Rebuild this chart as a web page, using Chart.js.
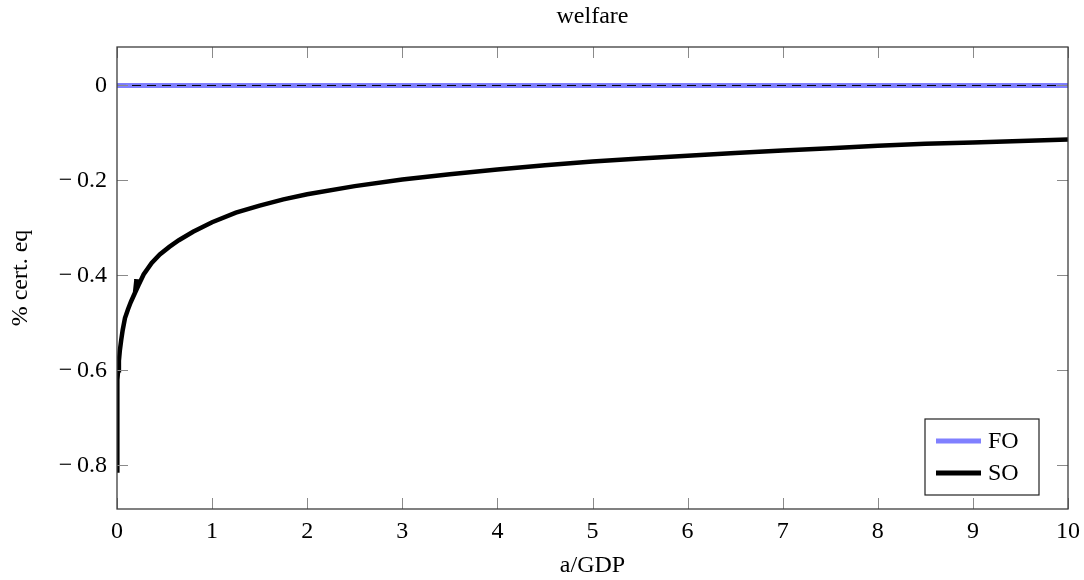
<!DOCTYPE html>
<html>
<head>
<meta charset="utf-8">
<script src="https://cdn.jsdelivr.net/npm/chart.js@4.4.1/dist/chart.umd.min.js"></script>
<style>
  body { margin: 0; background: #fff; }
</style>
</head>
<body>
<canvas id="myChart" width="1084" height="580"></canvas>
<script>
// a/GDP grid points for the SO curve (the small barb near 0.2 is in the original)
var soX = [0, 0.001, 0.002, 0.004, 0.007, 0.012, 0.02, 0.03, 0.045, 0.06, 0.084, 0.115, 0.147, 0.19, 0.205, 0.196, 0.228,
           0.28, 0.365, 0.45, 0.55, 0.65, 0.8, 1.0, 1.25, 1.5, 1.75, 2.0, 2.5, 3.0, 3.5, 4.0, 4.5, 5.0,
           5.5, 6.0, 6.5, 7.0, 7.5, 8.0, 8.5, 9.0, 9.5, 10];
var soY = [-0.811, -0.74, -0.69, -0.65, -0.62, -0.60, -0.58, -0.558, -0.535, -0.515, -0.49, -0.472, -0.455, -0.436, -0.408, -0.434, -0.42,
           -0.398, -0.374, -0.356, -0.340, -0.326, -0.308, -0.288, -0.268, -0.253, -0.240, -0.229, -0.212, -0.198, -0.187, -0.177, -0.168, -0.160,
           -0.154, -0.148, -0.142, -0.137, -0.132, -0.127, -0.123, -0.120, -0.117, -0.114];

// FO is flat at zero, plus the dashed zero line
var foX = [0, 10];
var foY = [0, 0];
var zeroX = [0, 10];
var zeroY = [0, 0];

var xTicks = [0, 1, 2, 3, 4, 5, 6, 7, 8, 9, 10];
var yTicks = [-0.8, -0.6, -0.4, -0.2, 0];
var yMin = -0.892;
var yMax = 0.081;

var FONT = "'Liberation Serif', 'Times New Roman', serif";
var FSIZE = 24;

function toPoints(xs, ys) {
    var pts = [];
    for (var i = 0; i < xs.length; i++) {
        pts.push({x: xs[i], y: ys[i]});
    }
    return pts;
}

// box around the plot + pgfplots style inner ticks
var framePlugin = {
    id: 'frame',
    afterDatasetsDraw: function(chart) {
        var ctx = chart.ctx;
        var a = chart.chartArea;
        var xs = chart.scales.x, ys = chart.scales.y;
        var len = 11;
        ctx.save();
        ctx.strokeStyle = '#8a8a8a';
        ctx.lineWidth = 1;
        ctx.beginPath();
        for (var i = 0; i < xTicks.length; i++) {
            var px = Math.round(xs.getPixelForValue(xTicks[i])) + 0.5;
            ctx.moveTo(px, a.bottom); ctx.lineTo(px, a.bottom - len);
            ctx.moveTo(px, a.top); ctx.lineTo(px, a.top + len);
        }
        for (var j = 0; j < yTicks.length; j++) {
            var py = Math.round(ys.getPixelForValue(yTicks[j])) + 0.5;
            ctx.moveTo(a.left, py); ctx.lineTo(a.left + len, py);
            ctx.moveTo(a.right, py); ctx.lineTo(a.right - len, py);
        }
        ctx.stroke();
        ctx.strokeStyle = '#3c3c3c';
        ctx.lineWidth = 1.3;
        ctx.strokeRect(a.left, a.top, a.right - a.left, a.bottom - a.top);
        ctx.restore();
    }
};

// legend box in the lower right corner of the plot
var legendPlugin = {
    id: 'boxLegend',
    afterDraw: function(chart) {
        var ctx = chart.ctx;
        var a = chart.chartArea;
        var right = a.right - 29, bottom = a.bottom - 14;
        var w = 114, h = 76;
        var left = right - w, top = bottom - h;
        ctx.save();
        ctx.fillStyle = '#fff';
        ctx.fillRect(left, top, w, h);
        ctx.strokeStyle = '#222';
        ctx.lineWidth = 1.2;
        ctx.strokeRect(left, top, w, h);
        var entries = [chart.data.datasets[0], chart.data.datasets[1]];
        ctx.font = FSIZE + 'px ' + FONT;
        ctx.textBaseline = 'middle';
        for (var i = 0; i < entries.length; i++) {
            var cy = top + 22 + i * 32;
            ctx.strokeStyle = entries[i].borderColor;
            ctx.lineWidth = 5;
            ctx.beginPath();
            ctx.moveTo(left + 11, cy);
            ctx.lineTo(left + 56, cy);
            ctx.stroke();
            ctx.fillStyle = '#000';
            ctx.fillText(entries[i].label, left + 63, cy + 1);
        }
        ctx.restore();
    }
};

var ctx = document.getElementById('myChart').getContext('2d');
var chart = new Chart(ctx, {
    type: 'line',
    data: {
        datasets: [{
            label: 'FO',
            data: toPoints(foX, foY),
            borderColor: 'rgb(128, 128, 255)',
            borderWidth: 5,
            pointRadius: 0,
            order: 3
        }, {
            label: 'SO',
            data: toPoints(soX, soY),
            borderColor: '#000',
            borderWidth: 4.5,
            pointRadius: 0,
            tension: 0,
            order: 2
        }, {
            label: 'zero',
            data: toPoints(zeroX, zeroY),
            borderColor: '#000',
            borderWidth: 1,
            borderDash: [9, 6],
            pointRadius: 0,
            order: 1
        }]
    },
    options: {
        responsive: false,
        animation: false,
        layout: { padding: { left: 0, right: 16, top: 0, bottom: 0 } },
        plugins: {
            legend: { display: false },
            tooltip: { enabled: false },
            title: {
                display: true,
                text: 'welfare',
                fullSize: false,
                color: '#000',
                font: { family: FONT, size: FSIZE, weight: 'normal' },
                padding: { top: 2, bottom: 16.2 }
            }
        },
        scales: {
            x: {
                type: 'linear',
                min: 0,
                max: 10,
                grid: { display: false, drawTicks: false },
                border: { display: false },
                afterBuildTicks: function(s) { s.ticks = xTicks.map(function(v) { return {value: v}; }); },
                afterFit: function(s) { s.height = 71; s.paddingLeft = 0; s.paddingRight = 0; },
                ticks: {
                    color: '#000',
                    padding: 8,
                    maxRotation: 0,
                    font: { family: FONT, size: FSIZE },
                    callback: function(v) { return String(v); }
                },
                title: {
                    display: true,
                    text: 'a/GDP',
                    color: '#000',
                    font: { family: FONT, size: FSIZE },
                    padding: { top: 0, bottom: 0 }
                }
            },
            y: {
                min: yMin,
                max: yMax,
                grid: { display: false, drawTicks: false },
                border: { display: false },
                afterBuildTicks: function(s) { s.ticks = yTicks.map(function(v) { return {value: v}; }); },
                afterFit: function(s) { s.width = 117; s.paddingTop = 0; s.paddingBottom = 0; },
                ticks: {
                    color: '#000',
                    padding: 10,
                    font: { family: FONT, size: FSIZE },
                    callback: function(v) {
                        if (Math.abs(v) < 1e-9) return '0';
                        return '\u2212\u2009' + Math.abs(v).toFixed(1);
                    }
                },
                title: {
                    display: true,
                    text: '% cert. eq',
                    color: '#000',
                    font: { family: FONT, size: FSIZE },
                    padding: { top: 6.6, bottom: 0 }
                }
            }
        }
    },
    plugins: [framePlugin, legendPlugin]
});
</script>
</body>
</html>
